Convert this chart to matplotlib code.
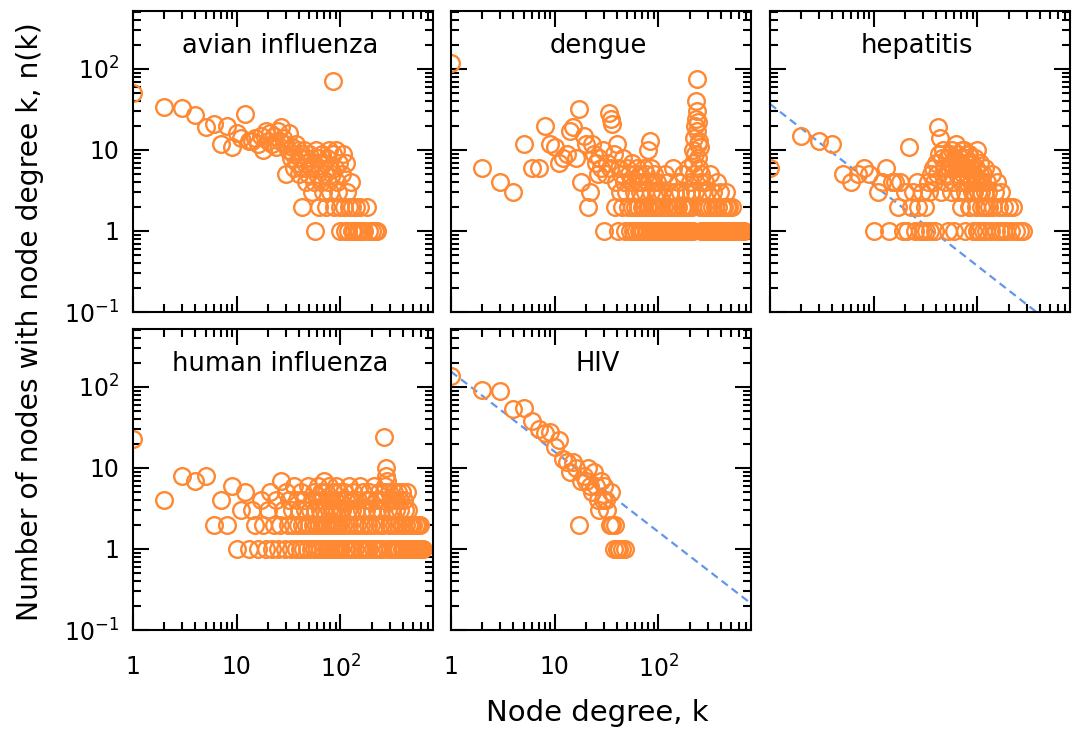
import matplotlib
matplotlib.use("Agg")
import matplotlib.pyplot as plt
from matplotlib.ticker import FixedLocator, LogLocator, NullFormatter, FixedFormatter

# ---------------- data ----------------
panel_titles = ["avian influenza", "dengue", "hepatitis", "human influenza", "HIV"]

avian_k = [1, 2, 3, 4, 5, 6, 7, 8, 9, 10, 11, 12, 13, 14, 15, 16, 17, 18, 19, 20,
           21, 22, 23, 24, 25, 26, 27, 28, 29, 30, 31, 32, 33, 34, 35, 36, 37, 38, 39, 40,
           41, 42, 43, 44, 45, 46, 47, 48, 49, 50, 52, 53, 55, 56, 57, 58, 60, 61, 62, 64,
           65, 66, 68, 70, 71, 72, 74, 75, 77, 78, 80, 82, 84, 85, 86, 88, 90, 92, 94, 96,
           98, 100, 103, 105, 108, 110, 112, 115, 118, 120, 125, 128, 130, 135, 140, 145, 150, 155, 160, 170,
           180, 190, 200, 215, 225]
avian_n = [50, 34, 33, 27, 19, 21, 12, 20, 11, 16, 14, 28, 13, 13, 14, 12, 15, 10, 17, 13,
           16, 12, 15, 11, 17, 13, 19, 14, 12, 5, 10, 16, 8, 11, 9, 6, 12, 7, 10, 5,
           8, 9, 2, 6, 10, 7, 4, 8, 5, 9, 6, 3, 7, 4, 1, 10, 5, 8, 2, 6,
           4, 9, 3, 7, 5, 2, 8, 4, 6, 10, 3, 5, 9, 72, 2, 6, 10, 4, 3, 7,
           2, 1, 5, 9, 2, 1, 7, 3, 1, 2, 4, 1, 2, 1, 2, 1, 1, 2, 1, 1,
           2, 1, 1, 1, 1]

dengue_k = [1, 2, 3, 4, 5, 6, 7, 8, 9, 10, 11, 12, 13, 14, 15, 16, 17, 18, 19, 20,
            21, 22, 23, 24, 25, 26, 27, 28, 29, 30, 31, 32, 33, 34, 35, 36, 37, 38, 39, 40,
            41, 42, 43, 44, 45, 46, 47, 48, 49, 50, 51, 52, 53, 54, 55, 56, 57, 58, 59, 60,
            61, 62, 63, 64, 65, 66, 67, 68, 69, 70, 71, 72, 73, 74, 75, 76, 77, 78, 79, 80,
            81, 82, 83, 84, 85, 86, 87, 88, 89, 90, 91, 92, 93, 94, 95, 96, 97, 98, 99, 100,
            102, 104, 106, 108, 110, 112, 114, 116, 118, 120, 122, 124, 126, 128, 130, 132, 134, 136, 138, 140,
            142, 144, 146, 148, 150, 153, 156, 159, 162, 165, 168, 171, 174, 177, 180, 183, 186, 189, 192, 195,
            198, 201, 204, 207, 210, 213, 215, 217, 219, 221, 223, 225, 227, 229, 231, 233, 235, 237, 239, 241,
            243, 245, 247, 249, 251, 253, 255, 257, 260, 263, 266, 270, 274, 278, 282, 286, 290, 295, 300, 305,
            310, 315, 320, 326, 332, 338, 344, 350, 357, 364, 371, 378, 385, 393, 401, 409, 417, 426, 435, 444,
            453, 462, 472, 482, 492, 503, 514, 525, 537, 549, 561, 574, 587, 600, 615, 630, 650, 670]
dengue_n = [120, 6, 4, 3, 12, 6, 6, 20, 12, 11, 7, 8, 9, 17, 19, 8, 32, 4, 15, 12,
            2, 3, 12, 9, 7, 5, 8, 6, 10, 1, 5, 7, 29, 6, 24, 21, 9, 2, 4, 12,
            1, 6, 3, 5, 2, 8, 4, 1, 3, 6, 2, 5, 1, 4, 7, 2, 1, 3, 5, 2,
            1, 6, 4, 2, 1, 3, 5, 1, 2, 4, 1, 6, 2, 3, 1, 5, 2, 1, 4, 10,
            2, 13, 1, 3, 6, 2, 1, 4, 2, 1, 5, 2, 1, 3, 2, 1, 4, 2, 1, 3,
            1, 2, 1, 3, 1, 2, 1, 5, 1, 2, 1, 4, 2, 1, 3, 1, 2, 1, 6, 2,
            1, 3, 1, 2, 1, 4, 2, 1, 3, 1, 2, 1, 5, 2, 1, 3, 1, 2, 6, 1,
            2, 4, 1, 3, 2, 7, 1, 10, 5, 14, 3, 20, 9, 24, 40, 76, 30, 17, 12, 22,
            8, 13, 6, 4, 11, 2, 5, 1, 3, 2, 1, 2, 1, 4, 1, 2, 1, 3, 1, 2,
            1, 5, 1, 2, 1, 3, 1, 2, 1, 4, 1, 2, 1, 3, 1, 2, 1, 2, 1, 3,
            1, 2, 1, 2, 1, 1, 2, 1, 1, 1, 1, 1, 1, 1, 1, 1, 1, 1]

hep_k = [1, 2, 3, 4, 5, 6, 7, 8, 9, 10, 11, 12, 13, 14, 15, 16, 17, 18, 19, 20,
         21, 22, 23, 24, 25, 26, 27, 28, 29, 30, 31, 32, 33, 34, 35, 36, 37, 38, 39, 40,
         41, 42, 43, 44, 45, 46, 47, 48, 49, 50, 51, 52, 53, 54, 55, 56, 57, 58, 59, 60,
         61, 62, 63, 64, 65, 66, 67, 68, 69, 70, 71, 72, 73, 74, 75, 76, 77, 78, 79, 80,
         81, 82, 83, 84, 85, 86, 87, 88, 89, 90, 91, 92, 93, 94, 95, 96, 97, 98, 99, 100,
         102, 103, 105, 106, 108, 109, 111, 112, 114, 115, 117, 118, 120, 121, 124, 127, 130, 134, 138, 142,
         146, 150, 155, 160, 165, 170, 175, 182, 190, 200, 210, 220, 235, 255, 275]
hep_n = [6, 15, 13, 12, 5, 4, 5, 6, 5, 1, 3, 4, 6, 1, 4, 4, 2, 4, 1, 3,
         1, 11, 2, 3, 1, 4, 2, 1, 3, 1, 2, 1, 4, 3, 1, 5, 6, 4, 1, 7,
         5, 19, 9, 14, 3, 8, 10, 6, 4, 5, 8, 1, 6, 9, 3, 7, 10, 4, 6, 1,
         8, 12, 5, 6, 9, 3, 7, 8, 4, 2, 10, 5, 6, 10, 3, 1, 8, 7, 5, 4,
         9, 9, 2, 2, 6, 6, 4, 3, 7, 1, 5, 5, 3, 8, 4, 2, 6, 4, 1, 10,
         3, 1, 5, 7, 2, 3, 4, 5, 1, 2, 3, 6, 2, 1, 4, 3, 2, 1, 5, 2,
         3, 1, 4, 2, 1, 3, 1, 2, 1, 2, 1, 2, 1, 1, 1]

human_k = [1, 2, 3, 4, 5, 6, 7, 8, 9, 10, 11, 12, 13, 14, 15, 16, 17, 18, 19, 20,
           21, 22, 23, 24, 25, 26, 27, 28, 29, 30, 31, 32, 33, 34, 35, 36, 37, 38, 39, 40,
           41, 42, 43, 44, 45, 46, 47, 48, 49, 50, 51, 52, 53, 54, 55, 56, 57, 58, 59, 60,
           61, 62, 63, 64, 65, 66, 67, 68, 69, 70, 71, 72, 73, 74, 75, 76, 77, 78, 79, 80,
           81, 82, 83, 84, 85, 86, 87, 88, 89, 90, 91, 92, 93, 94, 95, 96, 97, 98, 99, 100,
           102, 104, 106, 108, 110, 112, 114, 116, 118, 120, 122, 124, 126, 128, 130, 133, 136, 139, 142, 145,
           148, 151, 154, 157, 160, 163, 166, 169, 172, 175, 178, 181, 184, 187, 190, 194, 198, 202, 206, 210,
           214, 218, 222, 226, 230, 234, 238, 242, 246, 250, 254, 258, 262, 265, 268, 272, 276, 280, 284, 288,
           292, 296, 300, 305, 310, 315, 320, 325, 330, 335, 340, 345, 350, 355, 360, 366, 372, 378, 384, 390,
           396, 402, 408, 414, 420, 427, 434, 441, 448, 455, 462, 470, 478, 486, 494, 502, 510, 520, 530, 540,
           550, 560, 570, 580, 590, 600, 612, 625]
human_n = [23, 4, 8, 7, 8, 2, 4, 2, 6, 1, 3, 5, 1, 3, 2, 1, 4, 2, 1, 3,
           5, 1, 2, 4, 1, 2, 7, 3, 1, 5, 2, 4, 1, 3, 2, 6, 1, 4, 2, 3,
           1, 5, 2, 1, 4, 3, 2, 1, 6, 2, 3, 1, 4, 2, 5, 1, 3, 2, 4, 1,
           6, 2, 3, 1, 5, 2, 4, 1, 3, 7, 2, 1, 5, 2, 4, 1, 3, 6, 2, 1,
           4, 3, 2, 5, 1, 2, 3, 4, 1, 2, 6, 1, 3, 2, 1, 5, 2, 4, 1, 3,
           1, 3, 2, 5, 1, 4, 2, 1, 3, 6, 2, 1, 4, 3, 1, 5, 2, 1, 3, 2,
           4, 1, 6, 2, 1, 3, 5, 2, 1, 4, 3, 1, 2, 5, 1, 4, 2, 3, 1, 6,
           2, 1, 4, 3, 1, 5, 2, 1, 3, 4, 1, 2, 5, 24, 6, 10, 8, 7, 1, 3,
           2, 5, 1, 4, 2, 3, 1, 5, 2, 1, 4, 3, 1, 5, 2, 1, 4, 3, 2, 1,
           5, 2, 4, 1, 3, 2, 5, 1, 3, 2, 1, 2, 1, 2, 1, 2, 1, 1, 2, 1,
           1, 2, 1, 1, 2, 1, 1, 1]

hiv_k = [1, 2, 3, 4, 5, 6, 7, 8, 9, 10, 11, 12, 13, 14, 15, 16, 17, 18, 19, 20,
         21, 22, 23, 24, 25, 26, 27, 28, 29, 30, 31, 32, 34, 35, 36, 37, 38, 40, 42, 45, 48]
hiv_n = [135, 93, 88, 53, 55, 38, 30, 27, 28, 18, 22, 13, 12, 9, 12, 10, 2, 7, 8, 7,
         10, 6, 5, 9, 6, 4, 3, 7, 4, 6, 4, 3, 2, 5, 2, 1, 2, 1, 1, 1, 1]

# power-law fits n(k) = A * k^slope  (hepatitis, HIV)
hep_fit_A, hep_fit_slope = 37.0, -1.0
hiv_fit_A, hiv_fit_slope = 155.0, -0.99

x_ticks = [1, 10, 100]
x_ticklabels = ["1", "10", r"$10^{2}$"]
y_ticks = [0.1, 1, 10, 100]
y_ticklabels = [r"$10^{-1}$", "1", "10", r"$10^{2}$"]

# ---------------- style ----------------
ORANGE = "#ff8833"
BLUE = "#6495ed"
XMIN, XMAX = 1, 780
YMIN, YMAX = 0.1, 520

plt.rcParams["font.family"] = ["DejaVu Sans"]
plt.rcParams["mathtext.fontset"] = "dejavusans"
plt.rcParams["mathtext.default"] = "regular"

W, H = 1081, 731
fig = plt.figure(figsize=(W / 100, H / 100), dpi=100)


def make_ax(left, top, w=300, h=301):
    return fig.add_axes([left / W, 1 - (top + h) / H, w / W, h / H])


specs = [
    (133, 11, avian_k, avian_n, None, False, True),
    (451, 11, dengue_k, dengue_n, None, False, False),
    (770, 11, hep_k, hep_n, (hep_fit_A, hep_fit_slope), False, False),
    (133, 329, human_k, human_n, None, True, True),
    (451, 329, hiv_k, hiv_n, (hiv_fit_A, hiv_fit_slope), True, False),
]

for (left, top, ks, ns, fit, show_x, show_y), title in zip(specs, panel_titles):
    ax = make_ax(left, top)
    ax.set_xscale("log")
    ax.set_yscale("log")
    if fit is not None:
        A, s = fit
        xs = [XMIN, XMAX]
        ax.plot(xs, [A * x ** s for x in xs], color=BLUE, lw=1.6,
                ls=(0, (3.5, 2.2)), zorder=1)
    ax.plot(ks, ns, "o", mfc="none", mec=ORANGE, ms=12, mew=1.7, zorder=2)
    ax.set_xlim(XMIN, XMAX)
    ax.set_ylim(YMIN, YMAX)
    ax.xaxis.set_major_locator(FixedLocator(x_ticks))
    ax.yaxis.set_major_locator(FixedLocator(y_ticks))
    ax.xaxis.set_minor_locator(LogLocator(base=10, subs=range(2, 10), numticks=20))
    ax.yaxis.set_minor_locator(LogLocator(base=10, subs=range(2, 10), numticks=20))
    ax.xaxis.set_minor_formatter(NullFormatter())
    ax.yaxis.set_minor_formatter(NullFormatter())
    if show_x:
        ax.xaxis.set_major_formatter(FixedFormatter(x_ticklabels))
    else:
        ax.xaxis.set_major_formatter(NullFormatter())
    if show_y:
        ax.yaxis.set_major_formatter(FixedFormatter(y_ticklabels))
    else:
        ax.yaxis.set_major_formatter(NullFormatter())
    ax.tick_params(which="both", direction="in", top=True, right=True, width=1.5,
                   labelsize=17)
    ax.tick_params(which="major", length=11.5)
    ax.tick_params(which="minor", length=5.5)
    ax.tick_params(axis="x", which="major", pad=18)
    ax.tick_params(axis="y", which="major", pad=10)
    for sp in ax.spines.values():
        sp.set_linewidth(1.5)
    ax.text(0.49, 0.862, title, transform=ax.transAxes, ha="center",
            va="baseline", fontsize=18.5, color="black")

fig.text(30 / W, 1 - 322 / H, "Number of nodes with node degree k, n(k)",
         rotation=90, ha="center", va="center", fontsize=20.3)
fig.text(597 / W, 1 - 713 / H, "Node degree, k", ha="center", va="center",
         fontsize=21)

fig.savefig("out.png", dpi=100)
